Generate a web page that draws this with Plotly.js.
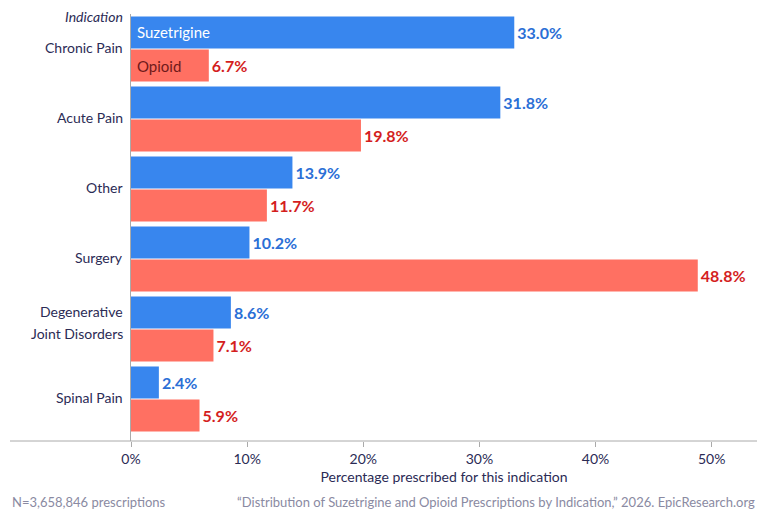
<!DOCTYPE html>
<html>
<head>
<meta charset="utf-8">
<script src="https://cdn.plot.ly/plotly-3.0.1.min.js"></script>
<style>
  html, body { margin: 0; padding: 0; background: #fff; }
  #chart { width: 768px; height: 520px; }
</style>
</head>
<body>
<div id="chart"></div>
<script>
// Indications, top to bottom (label lines separated by \n)
const indications = ['Chronic Pain', 'Acute Pain', 'Other', 'Surgery', 'Degenerative\nJoint Disorders', 'Spinal Pain'];

// Share of prescriptions for each indication (%)
const suzetrigine = [33.0, 31.8, 13.9, 10.2, 8.6, 2.4];
const opioid = [6.7, 19.8, 11.7, 48.8, 7.1, 5.9];

const xTicks = [0, 10, 20, 30, 40, 50];
const xTickText = ['0%', '10%', '20%', '30%', '40%', '50%'];

const FONT = 'Lato, "Open Sans", sans-serif';
const BLUE = '#3886ee';
const RED = '#ff7062';
const BLUE_TEXT = '#2b6fd6';
const RED_TEXT = '#d41e1e';
const NAVY = '#2b2b55';
const AXIS = '#aaaaaa';

function pct(v) { return v.toFixed(1) + '%'; }

const traces = [
  {
    type: 'bar', orientation: 'h', name: 'Suzetrigine',
    y: indications, x: suzetrigine,
    marker: { color: BLUE },
    text: suzetrigine.map(pct), textposition: 'outside',
    textfont: { family: FONT, size: 16, color: BLUE_TEXT, weight: 'bold' },
    cliponaxis: false, hoverinfo: 'skip'
  },
  {
    type: 'bar', orientation: 'h', name: 'Opioid',
    y: indications, x: opioid,
    marker: { color: RED },
    text: opioid.map(pct), textposition: 'outside',
    textfont: { family: FONT, size: 16, color: RED_TEXT, weight: 'bold' },
    cliponaxis: false, hoverinfo: 'skip'
  }
];

const plotL = 131, plotR = 757, plotW = plotR - plotL;
const labelX = (122 - plotL) / plotW;

// Category labels drawn to the left of the axis, one text line each
const labelAnnotations = [];
indications.forEach(function (cat) {
  const lines = cat.split('\n');
  const base = lines.length > 1 ? 7 : 2;
  lines.forEach(function (line, i) {
    labelAnnotations.push({
      text: line, xref: 'paper', yref: 'y', x: labelX, y: cat,
      xanchor: 'right', yanchor: 'middle', xshift: 3,
      yshift: base + ((lines.length - 1) / 2 - i) * 22,
      showarrow: false, font: { family: FONT, size: 14, color: NAVY }
    });
  });
});

const layout = {
  width: 768, height: 520,
  margin: { l: plotL, r: 768 - plotR, t: 14, b: 79 },
  paper_bgcolor: '#fff', plot_bgcolor: '#fff',
  font: { family: FONT, color: NAVY, size: 14 },
  barmode: 'group', bargap: 0.057, bargroupgap: 0.03,
  showlegend: false,
  xaxis: {
    range: [0, 53.9], tickvals: xTicks, ticktext: xTickText,
    showgrid: false, zeroline: false, showline: false,
    ticks: 'outside', ticklen: 5, tickcolor: AXIS,
    tickfont: { family: FONT, size: 14, color: NAVY },
    title: { text: 'Percentage prescribed for this indication', font: { family: FONT, size: 14, color: NAVY }, standoff: 6 }
  },
  yaxis: {
    type: 'category', categoryorder: 'array', categoryarray: indications,
    range: [5.6, -0.5],
    showgrid: false, zeroline: false,
    showline: true, linecolor: AXIS, linewidth: 1,
    ticks: '', showticklabels: false
  },
  shapes: [
    { type: 'line', xref: 'paper', yref: 'paper',
      x0: (10 - plotL) / plotW, x1: 1, y0: 0, y1: 0,
      line: { color: AXIS, width: 1 } }
  ],
  annotations: labelAnnotations.concat([
    { text: '<i>Indication</i>', xref: 'paper', yref: 'paper',
      x: labelX, y: 1, xanchor: 'right', yanchor: 'middle', xshift: 3, yshift: -2,
      showarrow: false, font: { family: FONT, size: 14, color: NAVY } },
    { text: 'Suzetrigine', xref: 'x', yref: 'y', x: 0, y: indications[0],
      xanchor: 'left', yanchor: 'middle', xshift: 4, yshift: 17,
      showarrow: false, font: { family: FONT, size: 15, color: '#ffffff' } },
    { text: 'Opioid', xref: 'x', yref: 'y', x: 0, y: indications[0],
      xanchor: 'left', yanchor: 'middle', xshift: 4, yshift: -17,
      showarrow: false, font: { family: FONT, size: 15, color: '#701a1a' } },
    { text: 'N=3,658,846 prescriptions', xref: 'paper', yref: 'paper',
      x: (10 - plotL) / plotW, y: 0, xanchor: 'left', yanchor: 'middle', yshift: -61,
      showarrow: false, font: { family: FONT, size: 13, color: '#8a8aa2' } },
    { text: '\u201cDistribution of Suzetrigine and Opioid Prescriptions by Indication,\u201d 2026. EpicResearch.org',
      xref: 'paper', yref: 'paper', x: 1, y: 0, xanchor: 'right', yanchor: 'middle', yshift: -61,
      showarrow: false, font: { family: FONT, size: 13, color: '#8a8aa2' } }
  ])
};

Plotly.newPlot('chart', traces, layout, { displayModeBar: false, staticPlot: true });
</script>
</body>
</html>
